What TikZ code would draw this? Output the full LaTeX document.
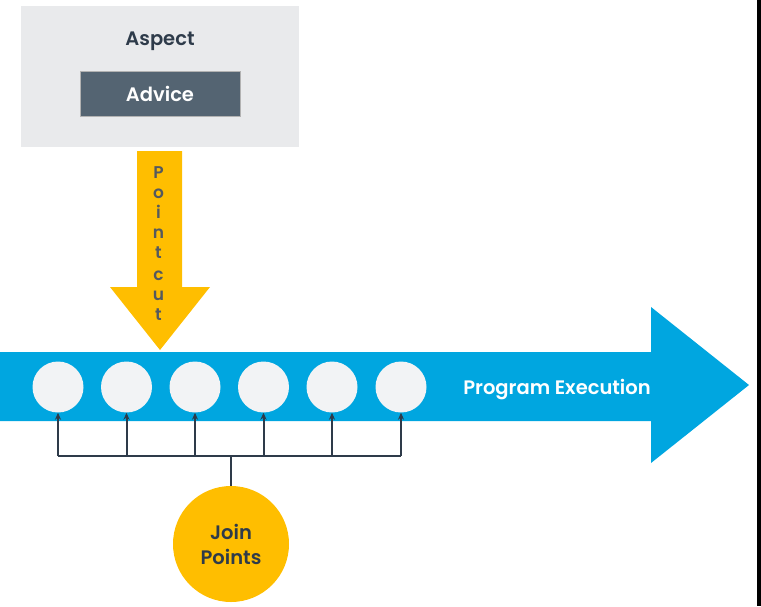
\documentclass[tikz,border=0pt]{standalone}
\usepackage{fontspec}
\setmainfont{Poppins}[BoldFont={Poppins SemiBold}]
\usetikzlibrary{arrows.meta}
\definecolor{encre}{HTML}{2E3B4A}
\definecolor{grisaspect}{HTML}{E9EAEC}
\definecolor{grisadvice}{HTML}{546472}
\definecolor{jaune}{HTML}{FFBE00}
\definecolor{bleu}{HTML}{00A6E0}
\definecolor{blanccasse}{HTML}{F2F3F5}
\definecolor{lettre}{HTML}{54595F}
\begin{document}
\begin{tikzpicture}[x=1pt,y=-1pt]
		\tikzstyle{texte} = [font=\bfseries\fontsize{19.5}{25}\selectfont,inner sep=0pt]
		\tikzstyle{etape} = [circle,fill=blanccasse,minimum size=51pt,inner sep=0pt]
		\tikzstyle{fil} = [draw=encre,line width=2pt]
		\tikzstyle{lien} = [fil,-{Stealth[length=7pt,width=6pt]}]
		
		\useasboundingbox (0,0) rectangle (761,606);
		\fill[black] (757,0) rectangle (761,606);
		
		% aspect et advice
		\node[fill=grisaspect,minimum width=278pt,minimum height=141pt,inner sep=0pt](aspect) at (160,76.5) {};
		\node[texte,text=encre](titre) at (160,41) {Aspect};
		\node[texte,fill=grisadvice,draw=gray!60,line width=0.6pt,minimum width=160pt,minimum height=45pt,text=white](advice) at (160,93.5) {Advice};
		
		% fleches
		\fill[jaune] (137,151) -- (182,151) -- (182,287) -- (210,287) -- (160,350) -- (110,287) -- (137,287) -- cycle;
		\fill[bleu] (0,352) -- (651,352) -- (651,307) -- (749,385) -- (651,463) -- (651,421) -- (0,421) -- cycle;
		
		\foreach \l [count=\k] in {P,o,i,n,t,c,u,t}{
			\pgfmathsetmacro{\yb}{178+20*(\k-1)+(\k>5)*2}
			\node[font=\bfseries\fontsize{17}{20}\selectfont,text=lettre,anchor=base,inner sep=0pt](pc\k) at (158.5,\yb) {\l};
		}
		
		\node[texte,text=white](exec) at (557,390) {Program Execution};
		
		% points de jonction
		\foreach \i/\x in {1/58,2/126.5,3/195,4/263.5,5/332,6/401}
			\node[etape](c\i) at (\x,387) {};
		
		\node[circle,fill=jaune,minimum size=116pt,align=center,texte,text=encre](join) at (231,544) {Join\\Points};
		\coordinate (bus) at (231,456);
		
		\draw[fil] (join.north) -- (bus);
		\draw[fil] (c1 |- bus) -- (c6 |- bus);
		\foreach \i in {1,...,6}
			\draw[lien] (c\i |- bus) -- (c\i.south);
		
\end{tikzpicture}
\end{document}
